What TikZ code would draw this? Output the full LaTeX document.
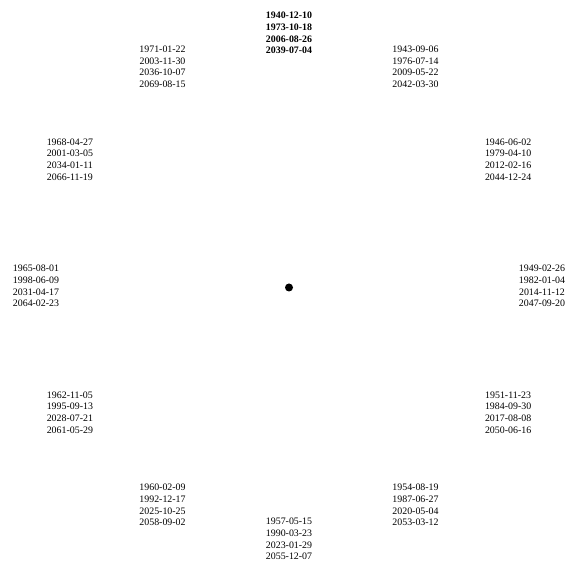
\documentclass[tikz,border=0pt]{standalone}
\usepackage{fontspec}
\setmainfont{Liberation Serif}
\usetikzlibrary{calc}
\begin{document}
\begin{tikzpicture}[x=1pt,y=1pt,
  datelabel/.style={align=center,inner sep=0pt,font=\fontsize{9.9}{11.7}\selectfont},
  boldlabel/.style={datelabel,font=\fontsize{9.9}{11.7}\selectfont\bfseries},
  hub/.style={circle,fill=black,inner sep=0pt,minimum size=8pt}]
\useasboundingbox (0,0) rectangle (568,562);
\coordinate (c) at (289,274.5);
\coordinate (t) at (289,276);
\node[hub] (dot) at (c) {};
\node[boldlabel] (d0) at ($(t)+(90:253)$) {1940-12-10\\1973-10-18\\2006-08-26\\2039-07-04};
\node[datelabel] (d1) at ($(t)+(60:253)$) {1943-09-06\\1976-07-14\\2009-05-22\\2042-03-30};
\node[datelabel] (d2) at ($(t)+(30:253)$) {1946-06-02\\1979-04-10\\2012-02-16\\2044-12-24};
\node[datelabel] (d3) at ($(t)+(0:253)$) {1949-02-26\\1982-01-04\\2014-11-12\\2047-09-20};
\node[datelabel] (d4) at ($(t)+(-30:253)$) {1951-11-23\\1984-09-30\\2017-08-08\\2050-06-16};
\node[datelabel] (d5) at ($(t)+(-60:253)$) {1954-08-19\\1987-06-27\\2020-05-04\\2053-03-12};
\node[datelabel] (d6) at ($(t)+(-90:253)$) {1957-05-15\\1990-03-23\\2023-01-29\\2055-12-07};
\node[datelabel] (d7) at ($(t)+(-120:253)$) {1960-02-09\\1992-12-17\\2025-10-25\\2058-09-02};
\node[datelabel] (d8) at ($(t)+(-150:253)$) {1962-11-05\\1995-09-13\\2028-07-21\\2061-05-29};
\node[datelabel] (d9) at ($(t)+(180:253)$) {1965-08-01\\1998-06-09\\2031-04-17\\2064-02-23};
\node[datelabel] (d10) at ($(t)+(150:253)$) {1968-04-27\\2001-03-05\\2034-01-11\\2066-11-19};
\node[datelabel] (d11) at ($(t)+(120:253)$) {1971-01-22\\2003-11-30\\2036-10-07\\2069-08-15};
\end{tikzpicture}
\end{document}
